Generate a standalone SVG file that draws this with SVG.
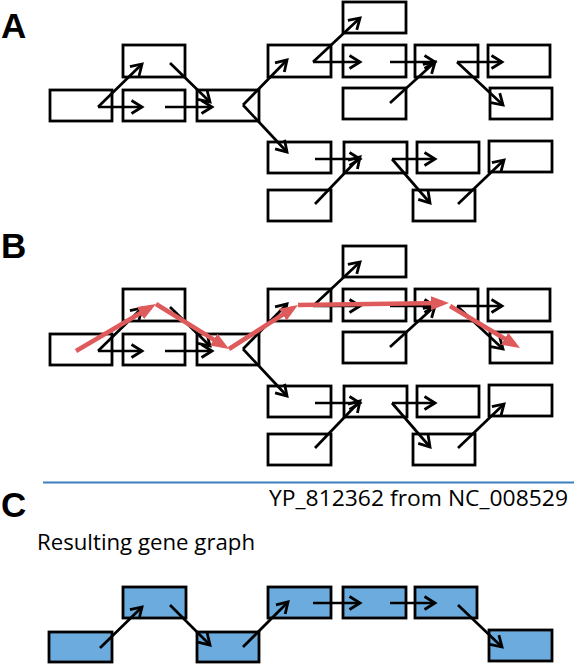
<svg xmlns="http://www.w3.org/2000/svg" width="579" height="665" viewBox="0 0 579 665">
<defs>
<style>
.n{fill:#fff;stroke:#000;stroke-width:2.8}
.nc{fill:#6cabdd;stroke:#000;stroke-width:2.8}
.e{stroke:#000;stroke-width:2.7;fill:none;marker-end:url(#ah)}
.r{stroke:#df5b5b;stroke-width:4.5;fill:none;marker-end:url(#rh)}
.lbl{font-family:"Liberation Sans",Arial,sans-serif;font-weight:bold;font-size:35px;fill:#000}
.t{font-family:"Open Sans","Noto Sans",sans-serif;font-size:21px;fill:#000}
</style>
<marker id="ah" markerUnits="userSpaceOnUse" viewBox="-14 -9 16 18" markerWidth="16" markerHeight="18" refX="0" refY="0" orient="auto" overflow="visible">
<path d="M-10.5,-6.5 L0,0 L-10.5,6.5" fill="none" stroke="#000" stroke-width="2.8"/>
</marker>
<marker id="rh" markerUnits="userSpaceOnUse" viewBox="0 0 18 14" markerWidth="18" markerHeight="14" refX="12" refY="7" orient="auto">
<path d="M0,0 L18,7 L0,14 z" fill="#df5b5b"/>
</marker>
</defs>
<rect width="579" height="665" fill="#fff"/>

<text class="lbl" x="1" y="38">A</text>
<text class="lbl" x="1" y="258">B</text>
<text class="lbl" x="1" y="517">C</text>

<!-- Panel A -->
<g id="panelA">
<g id="a-n1"><rect class="n" x="50" y="90" width="62" height="31"/></g>
<g id="a-n2"><rect class="n" x="123" y="45" width="62" height="32"/></g>
<g id="a-n3"><rect class="n" x="123" y="90" width="62" height="31"/></g>
<g id="a-n4"><rect class="n" x="197" y="90" width="62" height="31"/></g>
<g id="a-n5"><rect class="n" x="343" y="2" width="63" height="31"/></g>
<g id="a-n6"><rect class="n" x="268" y="45" width="63" height="32"/></g>
<g id="a-n7"><rect class="n" x="343" y="45" width="63" height="32"/></g>
<g id="a-n8"><rect class="n" x="415" y="45" width="63" height="32"/></g>
<g id="a-n9"><rect class="n" x="488" y="45" width="62" height="32"/></g>
<g id="a-n10"><rect class="n" x="343" y="88" width="63" height="31"/></g>
<g id="a-n11"><rect class="n" x="490" y="88" width="62" height="31"/></g>
<g id="a-n12"><rect class="n" x="268" y="142" width="63" height="31"/></g>
<g id="a-n13"><rect class="n" x="344" y="142" width="63" height="31"/></g>
<g id="a-n14"><rect class="n" x="417" y="142" width="62" height="31"/></g>
<g id="a-n15"><rect class="n" x="489" y="141" width="63" height="31"/></g>
<g id="a-n16"><rect class="n" x="268" y="190" width="63" height="31"/></g>
<g id="a-n17"><rect class="n" x="413" y="190" width="62" height="31"/></g>
<g id="a-edges">
<line class="e" x1="98" y1="107" x2="142" y2="64"/>
<line class="e" x1="98" y1="107" x2="142" y2="107"/>
<line class="e" x1="165" y1="107" x2="212" y2="107"/>
<line class="e" x1="170" y1="63" x2="210" y2="102"/>
<line class="e" x1="243" y1="105" x2="287" y2="60"/>
<line class="e" x1="243" y1="105" x2="287" y2="152"/>
<line class="e" x1="313" y1="62" x2="360" y2="18"/>
<line class="e" x1="313" y1="62" x2="360" y2="62"/>
<line class="e" x1="390" y1="62" x2="435" y2="62"/>
<line class="e" x1="390" y1="103" x2="435" y2="62"/>
<line class="e" x1="457" y1="62" x2="502" y2="62"/>
<line class="e" x1="457" y1="62" x2="503" y2="105"/>
<line class="e" x1="315" y1="159" x2="360" y2="159"/>
<line class="e" x1="315" y1="204" x2="360" y2="157"/>
<line class="e" x1="392" y1="159" x2="435" y2="159"/>
<line class="e" x1="392" y1="159" x2="430" y2="203"/>
<line class="e" x1="458" y1="204" x2="504" y2="160"/>
</g>
</g>

<!-- Panel B -->
<g id="panelB" transform="translate(0,244)">
<g id="b-n1"><rect class="n" x="50" y="90" width="62" height="31"/></g>
<g id="b-n2"><rect class="n" x="123" y="45" width="62" height="32"/></g>
<g id="b-n3"><rect class="n" x="123" y="90" width="62" height="31"/></g>
<g id="b-n4"><rect class="n" x="197" y="90" width="62" height="31"/></g>
<g id="b-n5"><rect class="n" x="343" y="2" width="63" height="31"/></g>
<g id="b-n6"><rect class="n" x="268" y="45" width="63" height="32"/></g>
<g id="b-n7"><rect class="n" x="343" y="45" width="63" height="32"/></g>
<g id="b-n8"><rect class="n" x="415" y="45" width="63" height="32"/></g>
<g id="b-n9"><rect class="n" x="488" y="45" width="62" height="32"/></g>
<g id="b-n10"><rect class="n" x="343" y="88" width="63" height="31"/></g>
<g id="b-n11"><rect class="n" x="490" y="88" width="62" height="31"/></g>
<g id="b-n12"><rect class="n" x="268" y="142" width="63" height="31"/></g>
<g id="b-n13"><rect class="n" x="344" y="142" width="63" height="31"/></g>
<g id="b-n14"><rect class="n" x="417" y="142" width="62" height="31"/></g>
<g id="b-n15"><rect class="n" x="489" y="141" width="63" height="31"/></g>
<g id="b-n16"><rect class="n" x="268" y="190" width="63" height="31"/></g>
<g id="b-n17"><rect class="n" x="413" y="190" width="62" height="31"/></g>
<g id="b-edges">
<line class="e" x1="98" y1="107" x2="142" y2="64"/>
<line class="e" x1="98" y1="107" x2="142" y2="107"/>
<line class="e" x1="165" y1="107" x2="212" y2="107"/>
<line class="e" x1="170" y1="63" x2="210" y2="102"/>
<line class="e" x1="243" y1="105" x2="287" y2="60"/>
<line class="e" x1="243" y1="105" x2="287" y2="152"/>
<line class="e" x1="313" y1="62" x2="360" y2="18"/>
<line class="e" x1="313" y1="62" x2="360" y2="62"/>
<line class="e" x1="390" y1="62" x2="435" y2="62"/>
<line class="e" x1="390" y1="103" x2="435" y2="62"/>
<line class="e" x1="457" y1="62" x2="502" y2="62"/>
<line class="e" x1="457" y1="62" x2="503" y2="105"/>
<line class="e" x1="315" y1="159" x2="360" y2="159"/>
<line class="e" x1="315" y1="204" x2="360" y2="157"/>
<line class="e" x1="392" y1="159" x2="435" y2="159"/>
<line class="e" x1="392" y1="159" x2="430" y2="203"/>
<line class="e" x1="458" y1="204" x2="504" y2="160"/>
</g>
</g>
<g id="b-path">
<line class="r" x1="76" y1="351" x2="150.8" y2="307"/>
<line class="r" x1="156" y1="304" x2="223.9" y2="345.8"/>
<line class="r" x1="229" y1="349" x2="292.9" y2="308.2"/>
<line class="r" x1="298" y1="305" x2="443" y2="303.1"/>
<line class="r" x1="450" y1="306" x2="514.9" y2="344.9"/>
</g>

<!-- Separator and caption -->
<line x1="43" y1="482.5" x2="574" y2="482.5" stroke="#3b7fc0" stroke-width="2.2"/>
<text class="t" x="269" y="506" textLength="299" lengthAdjust="spacingAndGlyphs">YP_812362 from NC_008529</text>
<text class="t" x="37" y="550" textLength="218" lengthAdjust="spacingAndGlyphs">Resulting gene graph</text>

<!-- Panel C -->
<g id="panelC">
<g id="c-n1"><rect class="nc" x="49" y="632" width="63" height="30"/></g>
<g id="c-n2"><rect class="nc" x="123" y="587" width="63" height="31"/></g>
<g id="c-n3"><rect class="nc" x="197" y="632" width="62" height="30"/></g>
<g id="c-n4"><rect class="nc" x="268" y="587" width="63" height="31"/></g>
<g id="c-n5"><rect class="nc" x="343" y="587" width="63" height="31"/></g>
<g id="c-n6"><rect class="nc" x="415" y="587" width="62" height="31"/></g>
<g id="c-n7"><rect class="nc" x="489" y="630" width="63" height="31"/></g>
<g id="c-edges">
<line class="e" x1="100" y1="648" x2="142" y2="607"/>
<line class="e" x1="170" y1="605" x2="210" y2="645"/>
<line class="e" x1="243" y1="647" x2="288" y2="602"/>
<line class="e" x1="313" y1="603" x2="360" y2="603"/>
<line class="e" x1="390" y1="603" x2="435" y2="603"/>
<line class="e" x1="458" y1="605" x2="502" y2="647"/>
</g>
</g>
</svg>
